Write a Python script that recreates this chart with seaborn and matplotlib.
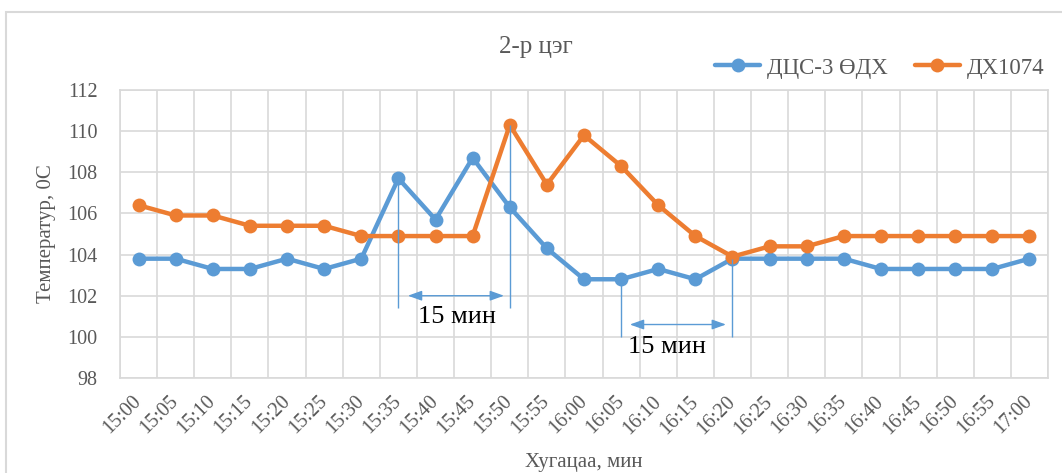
import matplotlib
matplotlib.use("Agg")
import matplotlib.pyplot as plt
from matplotlib.patches import Rectangle, FancyArrowPatch
from matplotlib.ticker import FixedLocator
import seaborn as sns
import pandas as pd

# Measurement times (every 5 minutes)
times = ["15:00", "15:05", "15:10", "15:15", "15:20", "15:25", "15:30", "15:35",
         "15:40", "15:45", "15:50", "15:55", "16:00", "16:05", "16:10", "16:15",
         "16:20", "16:25", "16:30", "16:35", "16:40", "16:45", "16:50", "16:55",
         "17:00"]

# Temperature readings, °C
dcs3 = [103.8, 103.8, 103.3, 103.3, 103.8, 103.3, 103.8, 107.7,
        105.7, 108.7, 106.3, 104.3, 102.8, 102.8, 103.3, 102.8,
        103.8, 103.8, 103.8, 103.8, 103.3, 103.3, 103.3, 103.3,
        103.8]
dh1074 = [106.4, 105.9, 105.9, 105.4, 105.4, 105.4, 104.9, 104.9,
          104.9, 104.9, 110.3, 107.4, 109.8, 108.3, 106.4, 104.9,
          103.9, 104.4, 104.4, 104.9, 104.9, 104.9, 104.9, 104.9,
          104.9]

series_names = ["ДЦС-3 ӨДХ", "ДХ1074"]
colors = ["#5B9BD5", "#ED7D31"]
y_ticks = [98, 100, 102, 104, 106, 108, 110, 112]

df = pd.DataFrame({
    "time": times * 2,
    "temp": dcs3 + dh1074,
    "series": [series_names[0]] * len(times) + [series_names[1]] * len(times),
})

sns.set_theme(style="white")
plt.rcParams["font.family"] = ["Liberation Serif", "DejaVu Serif"]

W, H = 1062, 473
fig = plt.figure(figsize=(W / 100, H / 100), dpi=100)
fig.patch.set_facecolor("white")

# outer chart frame
fig.patches.append(Rectangle((6 / W, -0.05), 1.2, 1 - 12 / H + 0.05,
                             transform=fig.transFigure, fill=False,
                             edgecolor="#d9d9d9", linewidth=1.5, zorder=0))

ax = fig.add_axes([120 / W, 1 - 378 / H, (1048 - 120) / W, (378 - 90) / H])

sns.lineplot(data=df, x="time", y="temp", hue="series", palette=colors,
             marker="o", markersize=10, markeredgewidth=0, linewidth=3.2,
             sort=False, ax=ax, legend=True)

n = len(times)
ax.set_xlim(-0.5, n - 0.5)
ax.set_ylim(98, 112)
ax.set_yticks(y_ticks)
ax.set_xticks(range(n))
ax.set_xticklabels(times, rotation=45, ha="right", va="center",
                   rotation_mode="anchor")
ax.xaxis.set_minor_locator(FixedLocator([i - 0.5 for i in range(n + 1)]))

grid_c = "#d9d9d9"
ax.grid(False)
ax.grid(True, which="minor", axis="x", color=grid_c, linewidth=1.2)
ax.grid(True, which="major", axis="y", color=grid_c, linewidth=1.2)
ax.set_axisbelow(True)
for s in ax.spines.values():
    s.set_color(grid_c)
    s.set_linewidth(1.2)

ax.tick_params(axis="both", which="both", length=0, labelsize=14.5,
               labelcolor="#595959")
ax.tick_params(axis="x", pad=15)
ax.tick_params(axis="y", pad=16)

ax.set_xlabel("Хугацаа, мин", fontsize=15, color="#595959", va="center")
ax.xaxis.set_label_coords(0.5, -(462 - 378) / 288)
ax.set_ylabel("Температур, 0С", fontsize=15, color="#595959", va="center")
ax.yaxis.set_label_coords(-(120 - 46) / 928, 0.5)

fig.text(536 / W, 1 - 47 / H, "2-р цэг", ha="center", va="center",
         fontsize=18, color="#595959")

handles, labels = ax.get_legend_handles_labels()
ax.legend(handles, labels, loc="center left", bbox_to_anchor=(706 / W, 1 - 68 / H),
          bbox_transform=fig.transFigure, ncol=2, frameon=False, fontsize=16.5,
          handlelength=1.95, handletextpad=0.3, columnspacing=1.2,
          labelcolor="#595959", borderaxespad=0)

# 15-minute delay markers
ann_c = "#5B9BD5"
i_a, i_b = times.index("15:35"), times.index("15:50")
i_c, i_d = times.index("16:05"), times.index("16:20")
ax.vlines([i_a], 101.4, dcs3[i_a], color=ann_c, linewidth=1)
ax.vlines([i_b], 101.4, dh1074[i_b], color=ann_c, linewidth=1)
ax.vlines([i_c], 100.0, dcs3[i_c], color=ann_c, linewidth=1)
ax.vlines([i_d], 100.0, dcs3[i_d], color=ann_c, linewidth=1)

for x0, x1, y in [(i_a + 0.18, i_b - 0.08, 102.0), (i_c + 0.16, i_d - 0.1, 100.6)]:
    ax.add_patch(FancyArrowPatch((x0, y), (x1, y),
                                 arrowstyle="<|-|>,head_length=0.7,head_width=0.25",
                                 color=ann_c, linewidth=1, mutation_scale=12))

ax.text(8.58, 100.96, "15 мин", ha="center", va="center", fontsize=19, color="black")
ax.text(14.24, 99.5, "15 мин", ha="center", va="center", fontsize=19, color="black")

fig.savefig("out.png", dpi=100, facecolor="white")
